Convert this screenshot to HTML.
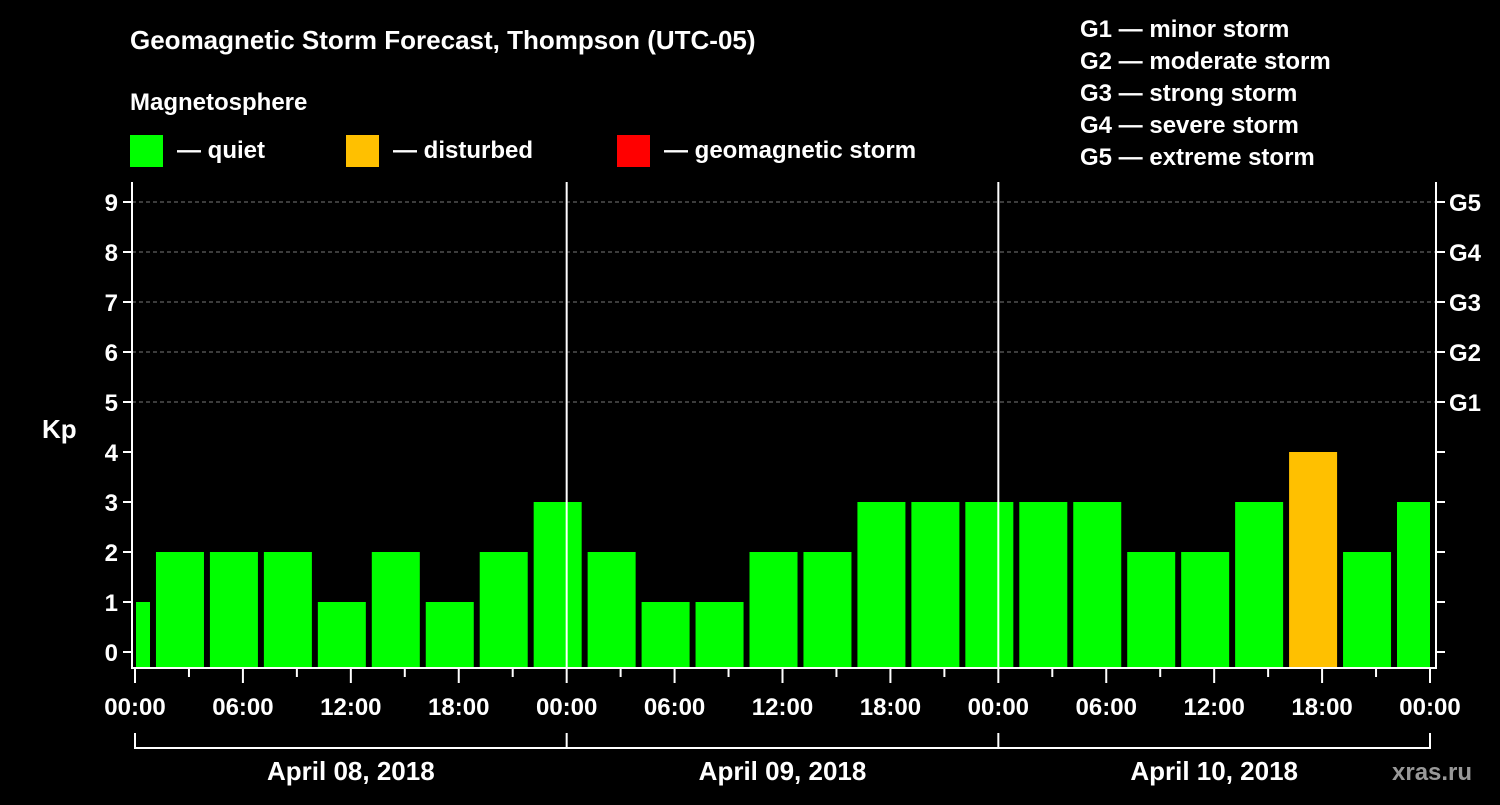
<!DOCTYPE html>
<html><head><meta charset="utf-8"><style>
body{margin:0;background:#000;}
svg text{font-family:"Liberation Sans",sans-serif;font-weight:bold;fill:#fff;}
</style></head><body>
<svg id="c" width="1500" height="800" xmlns="http://www.w3.org/2000/svg">
<rect width="1500" height="800" fill="#000"/>
<text x="130" y="49" font-size="26">Geomagnetic Storm Forecast, Thompson (UTC-05)</text>
<text x="130" y="110" font-size="24">Magnetosphere</text>
<rect x="130" y="135" width="33" height="32" fill="#00ff00"/>
<text x="177" y="158" font-size="24">— quiet</text>
<rect x="346" y="135" width="33" height="32" fill="#ffc000"/>
<text x="393" y="158" font-size="24">— disturbed</text>
<rect x="617" y="135" width="33" height="32" fill="#ff0000"/>
<text x="664" y="158" font-size="24">— geomagnetic storm</text>
<g font-size="24">
<text x="1080" y="37">G1 — minor storm</text>
<text x="1080" y="69">G2 — moderate storm</text>
<text x="1080" y="101">G3 — strong storm</text>
<text x="1080" y="133">G4 — severe storm</text>
<text x="1080" y="165">G5 — extreme storm</text>
</g>
<text x="42" y="438" font-size="26">Kp</text>
<text x="1392" y="780" font-size="24" style="fill:#999">xras.ru</text>
<g id="plot"></g>
</svg>
<script>
const kpValues=[1,2,2,2,1,2,1,2,3, 2,1,1,2,2,3,3, 3,3,3,2,2,3,4,2,3];
const yTicks=[0,1,2,3,4,5,6,7,8,9];
const gLabels={5:"G1",6:"G2",7:"G3",8:"G4",9:"G5"};
const xTickLabels=["00:00","06:00","12:00","18:00"];
const dayLabels=["April 08, 2018","April 09, 2018","April 10, 2018"];
const X0=135,X1=1430,HRS=72;
const xs=h=>X0+(X1-X0)*h/HRS;
const ys=v=>652-50*v;
const TOP=182,BOT=668,LEFT=132,RIGHT=1436;
const NS="http://www.w3.org/2000/svg";
const g=document.getElementById('plot');
function mk(t,a,p){const e=document.createElementNS(NS,t);for(const k in a)e.setAttribute(k,a[k]);(p||g).appendChild(e);return e;}
// gridlines
yTicks.forEach(v=>{if(v>=5){const l=mk('line',{x1:LEFT,x2:RIGHT,y1:ys(v),y2:ys(v),stroke:'#777','stroke-dasharray':'4,3','stroke-width':1});

}});
// bars
kpValues.forEach((v,i)=>{const c=X0+(i*3-0.5)*18*(X1-X0)/(HRS*18);const cx=xs(i*3-0.5);
let x1=Math.max(cx-24,LEFT+4),x2=Math.min(cx+24,X1);
const col=v>=5?'#ff0000':(v>=4?'#ffc000':'#00ff00');
const r=mk('rect',{x:x1,y:ys(v),width:x2-x1,height:BOT-ys(v),fill:col});

});
// day lines
[1,2].forEach(d=>{const l=mk('line',{x1:xs(d*24),x2:xs(d*24),y1:TOP,y2:BOT,stroke:'#fff','stroke-width':2});

});
// frame
const fr=mk('path',{d:`M${LEFT} ${TOP}V${BOT}H${RIGHT}V${TOP}`,stroke:'#fff','stroke-width':2,fill:'none'});


// y ticks
yTicks.forEach(v=>{mk('line',{x1:LEFT-9,x2:LEFT,y1:ys(v),y2:ys(v),stroke:'#fff','stroke-width':2});
mk('line',{x1:RIGHT,x2:RIGHT+9,y1:ys(v),y2:ys(v),stroke:'#fff','stroke-width':2});
const t=mk('text',{x:LEFT-14,y:ys(v)+9,'font-size':24,'text-anchor':'end'});t.textContent=v;


if(gLabels[v]){const s=mk('text',{x:RIGHT+13,y:ys(v)+9,'font-size':24});s.textContent=gLabels[v];

}});
// x ticks
for(let h=0;h<=HRS;h+=3){const major=h%6===0;
mk('line',{x1:xs(h),x2:xs(h),y1:BOT,y2:BOT+(major?15:9),stroke:'#fff','stroke-width':2});
if(major){const t=mk('text',{x:xs(h),y:715,'font-size':24,'text-anchor':'middle'});t.textContent=xTickLabels[(h/6)%4];

}}
// date bracket
mk('path',{d:`M${xs(0)} 733V748H${xs(72)}V733M${xs(24)} 748V733M${xs(48)} 748V733`,stroke:'#fff','stroke-width':2,fill:'none'});
dayLabels.forEach((d,i)=>{const t=mk('text',{x:xs(i*24+12),y:780,'font-size':26,'text-anchor':'middle'});t.textContent=d;

});
</script>
</body></html>
